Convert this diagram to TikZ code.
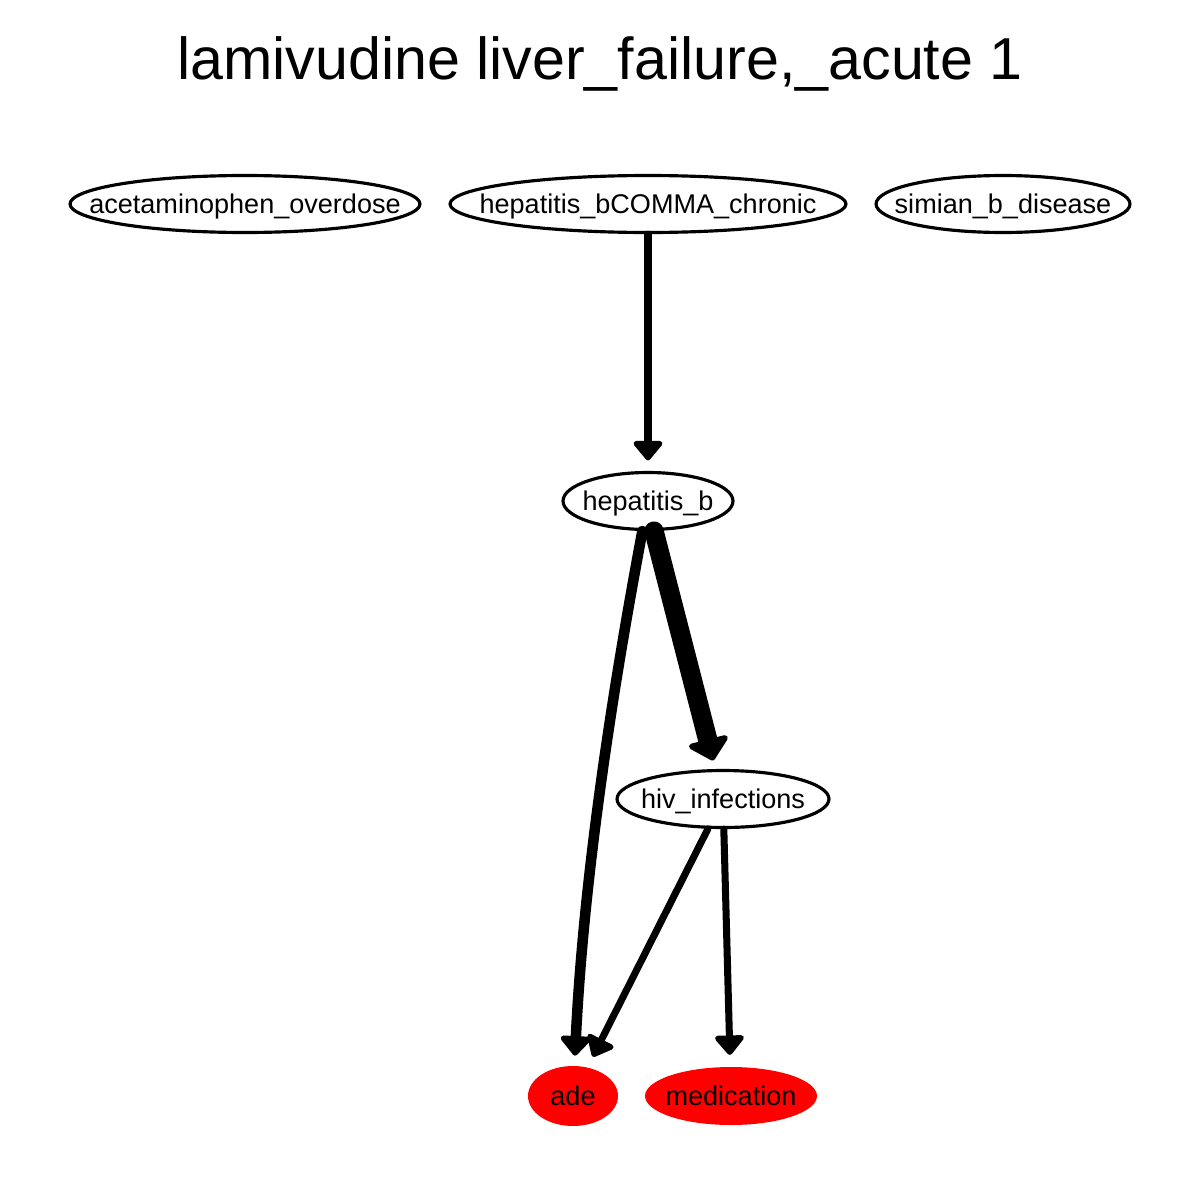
\documentclass[tikz,border=0pt]{standalone}
\usepackage{fontspec}
\setmainfont{Liberation Sans}
\usetikzlibrary{shapes.geometric,arrows.meta}
\definecolor{nodered}{RGB}{255,0,0}
\newcommand{\lbl}[1]{\raisebox{-5.2pt}[0pt][0pt]{\makebox[0pt]{#1}}}
\begin{document}
\begin{tikzpicture}[x=0.02cm,y=-0.02cm,
  ell/.style={ellipse,draw=black,line width=1.8pt,inner sep=0pt,minimum height=1.14cm,font=\fontsize{15.4pt}{18pt}\selectfont},
  redell/.style={ell,draw=none,fill=nodered},
  edge/.style={line width=4pt,line cap=round,-{Triangle[length=12pt,width=19pt,round]},shorten >=6pt},
  thickedge/.style={line width=11pt,line cap=round,-{Triangle[length=13pt,width=27pt,round]},shorten >=5pt},
  midedge/.style={line width=6pt,line cap=round,-{Triangle[length=12pt,width=20pt,round]},shorten >=5pt}]
\useasboundingbox (0,0) rectangle (1200,1200);
\node[font=\fontsize{33.7pt}{40pt}\selectfont] (title) at (600,64) {lamivudine liver\_failure,\_acute 1};
\node[ell,minimum width=7cm] (ao) at (245,204) {\lbl{acetaminophen\_overdose}};
\node[ell,minimum width=7.92cm] (hbc) at (648,204) {\lbl{hepatitis\_bCOMMA\_chronic}};
\node[ell,minimum width=5.08cm] (sbd) at (1003,204) {\lbl{simian\_b\_disease}};
\node[ell,minimum width=3.4cm] (hb) at (648,501) {\lbl{hepatitis\_b}};
\node[ell,minimum width=4.24cm] (hiv) at (723,799) {\lbl{hiv\_infections}};
\node[redell,minimum width=1.8cm,minimum height=1.2cm] (ade) at (573,1096) {\lbl{ade}};
\node[redell,minimum width=3.44cm,minimum height=1.16cm] (med) at (731,1096) {\lbl{medication}};
\draw[edge] (hbc) -- (hb);
\draw[thickedge] (hb.south) ++(6,0) coordinate (hbs) (hbs) -- (hiv);
\draw[midedge] (hb) .. controls (622,640) and (585,850) .. (ade);
\draw[edge] (hiv) -- (ade);
\draw[edge] (hiv) -- (med);
\end{tikzpicture}
\end{document}
